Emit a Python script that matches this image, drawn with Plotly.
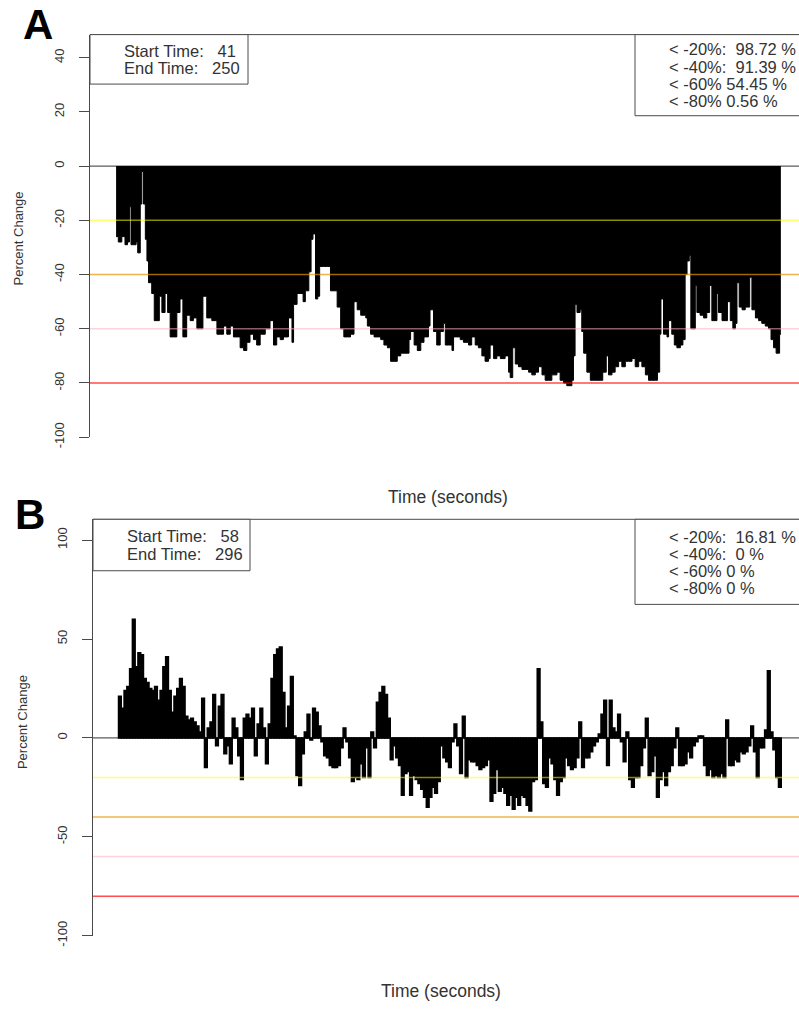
import plotly.graph_objects as go

# ---------------- data ----------------
a_time = [41.0, 41.7, 42.8, 43.8, 44.6, 45.2, 45.7, 46.5, 47.3, 47.8,
          48.6, 49.1, 49.6, 50.2, 50.7, 51.2, 52.2, 53.0, 54.0, 54.6,
          55.4, 56.4, 57.2, 58.0, 59.0, 60.1, 61.1, 62.0, 63.2, 64.3,
          65.3, 66.4, 67.4, 68.3, 69.5, 71.1, 72.7, 73.7, 74.8, 75.8,
          76.9, 77.9, 79.0, 80.0, 81.1, 82.1, 83.1, 84.2, 85.2, 86.3,
          87.9, 89.4, 90.5, 91.5, 92.6, 93.6, 95.2, 96.3, 96.8, 97.9,
          98.9, 99.8, 100.5, 101.6, 102.3, 102.9, 103.7, 104.4, 105.0, 106.3,
          107.4, 108.4, 109.5, 110.5, 111.6, 112.6, 113.7, 114.7, 115.8, 116.8,
          117.9, 119.5, 120.0, 121.0, 122.1, 123.1, 124.2, 125.2, 126.3, 127.3,
          128.4, 129.4, 130.5, 131.5, 133.1, 133.6, 134.7, 135.7, 136.8, 137.8,
          139.2, 139.7, 140.8, 141.8, 142.9, 143.9, 144.5, 145.5, 146.6, 147.1,
          148.1, 149.2, 150.2, 151.8, 152.8, 153.9, 154.9, 156.0, 157.0, 158.1,
          158.6, 159.7, 160.7, 161.8, 163.3, 164.4, 164.9, 165.7, 166.5, 167.5,
          168.6, 169.6, 170.7, 171.7, 172.8, 173.8, 174.9, 175.9, 177.0, 178.0,
          179.6, 180.6, 181.7, 182.7, 183.8, 184.3, 184.8, 185.3, 185.9, 186.9,
          187.4, 188.0, 189.0, 190.1, 191.1, 192.2, 193.2, 194.0, 195.1, 195.8,
          196.9, 197.9, 199.0, 200.0, 201.1, 202.1, 203.2, 204.2, 205.3, 206.3,
          207.4, 208.4, 209.4, 210.5, 211.2, 211.9, 212.3, 213.1, 214.2, 214.7,
          215.7, 216.5, 217.3, 218.4, 219.2, 219.9, 220.5, 221.2, 221.7, 222.3,
          223.1, 223.6, 224.6, 225.7, 226.7, 227.6, 228.3, 228.8, 229.9, 230.4,
          231.5, 232.5, 233.2, 234.1, 234.9, 235.7, 236.2, 236.9, 237.8, 238.8,
          240.2, 240.9, 242.0, 243.0, 244.0, 245.1, 246.1, 246.9, 247.7, 248.5,
          249.6, 250.0]
a_pct = [-26, -28, -26, -29, -28, -15, -29, -29, -28, -32,
         -14, -2, -14, -27, -35, -43, -47, -57, -57, -48,
         -54, -47, -54, -63, -63, -54, -49, -63, -55, -57,
         -56, -60, -60, -48, -56, -57, -62, -62, -59, -62,
         -59, -63, -63, -67, -68, -65, -62, -64, -66, -62,
         -60, -57, -66, -63, -64, -63, -56, -65, -51, -47,
         -47, -50, -46, -39, -27, -25, -49, -48, -37, -37,
         -37, -46, -46, -52, -60, -63, -63, -62, -50, -53,
         -55, -56, -59, -62, -63, -63, -64, -66, -67, -72,
         -72, -70, -69, -69, -64, -61, -66, -68, -65, -63,
         -59, -53, -61, -66, -61, -58, -66, -66, -68, -63,
         -63, -64, -65, -66, -63, -66, -67, -70, -72, -71,
         -66, -71, -70, -71, -70, -76, -78, -67, -73, -74,
         -75, -75, -76, -77, -76, -74, -77, -79, -79, -77,
         -76, -79, -80, -81, -81, -79, -70, -51, -54, -53,
         -61, -69, -76, -79, -79, -79, -79, -76, -70, -77,
         -76, -74, -72, -74, -72, -72, -71, -74, -72, -74,
         -77, -79, -79, -79, -76, -62, -49, -62, -63, -57,
         -62, -66, -67, -66, -64, -40, -35, -33, -60, -60,
         -44, -54, -55, -56, -54, -44, -57, -57, -47, -54,
         -57, -57, -50, -57, -60, -58, -43, -52, -53, -52,
         -41, -53, -56, -57, -58, -59, -60, -64, -67, -69,
         -62, -62]

b_time = list(range(58, 297))
b_pct = [21, 15, 24, 26, 35, 60, 36, 43, 42, 30,
         28, 25, 24, 26, 19, 24, 36, 41, 24, 13,
         21, 25, 30, 26, 11, 9, 10, 8, 6, 3,
         20, -15, 5, 8, 22, -4, 16, 22, -8, -4,
         -13, 10, 5, -9, -21, 10, 12, 10, 15, -9,
         7, 15, 5, -13, 7, 30, 42, 45, 46, 23,
         5, 16, 31, 1, -19, -24, -8, 3, 12, -1,
         15, 13, 6, -2, -9, -10, -14, -15, -15, -14,
         -5, 5, -2, -10, -22, -20, -21, -13, -20, -5,
         -20, 3, -5, 18, 23, 26, 22, 10, -11, -4,
         -10, -14, -29, -18, -17, -29, -19, -21, -23, -26,
         -30, -35, -30, -25, -28, -22, -4, -10, -12, -15,
         -2, 7, -4, -18, 11, -20, -11, -12, -12, -14,
         -16, -15, -14, -11, -32, -28, -16, -27, -25, -28,
         -34, -29, -36, -30, -34, -29, -30, -34, -37, -22,
         -21, 35, 8, -23, -25, -10, -13, -21, -29, -22,
         -20, -10, -14, -16, -15, -10, 8, -15, -10, -10,
         -7, -4, -2, 2, 12, 19, -14, 19, 5, 3,
         12, -2, -12, 3, -21, -25, -20, -20, -14, -5,
         10, -19, -17, -9, -30, -21, -17, -24, -17, -14,
         -5, 5, -14, -14, -13, -7, -10, -4, -2, 1,
         1, -14, -19, -16, -20, -19, -20, -18, -20, 9,
         -14, -14, -11, -12, -7, -8, -7, -4, 6, -7,
         -20, -5, -5, 4, 34, 3, -6, -20, -25]

a_ticks = [-100, -80, -60, -40, -20, 0, 20, 40]
b_ticks = [-100, -50, 0, 50, 100]
thresholds = [-20, -40, -60, -80]
threshold_colors = ["rgba(255,255,0,0.55)", "rgba(230,150,0,0.7)",
                    "rgba(255,175,190,0.55)", "rgba(255,0,0,0.7)"]

a_box_left = ["Start Time:\u00a0\u00a0\u00a041", "End Time:\u00a0\u00a0\u00a0250"]
a_box_right = ["< -20%:\u00a0\u00a098.72 %", "< -40%:\u00a0\u00a091.39 %",
               "< -60% 54.45 %", "< -80% 0.56 %"]
b_box_left = ["Start Time:\u00a0\u00a0\u00a058", "End Time:\u00a0\u00a0\u00a0296"]
b_box_right = ["< -20%:\u00a0\u00a016.81 %", "< -40%:\u00a0\u00a00 %",
               "< -60% 0 %", "< -80% 0 %"]

# ---------------- layout helpers ----------------
W, H = 799, 1015
FONT = "Liberation Sans, Arial, sans-serif"
TXT = "#333333"
LINE = "#4a4a4a"


def px(x):
    return x / W


def py(y):
    return 1 - y / H


fig = go.Figure()
fig.add_trace(go.Scatter(
    x=a_time, y=a_pct, mode="lines",
    line=dict(color="black", width=1, shape="hv"),
    fill="tozeroy", fillcolor="black",
    xaxis="x", yaxis="y", showlegend=False, hoverinfo="skip"))
fig.add_trace(go.Bar(
    x=b_time, y=b_pct, width=1,
    marker=dict(color="black", line=dict(width=1.5, color="black")),
    xaxis="x2", yaxis="y2", showlegend=False, hoverinfo="skip"))

yaxis_common = dict(
    showline=True, linecolor=LINE, linewidth=1,
    ticks="outside", ticklen=10, tickcolor=LINE, tickwidth=1,
    tickangle=-90, showgrid=False, zeroline=False,
    tickfont=dict(family=FONT, size=13, color=TXT),
    ticklabelstandoff=10,
)
xaxis_common = dict(visible=False, showgrid=False, zeroline=False)

fig.update_layout(
    width=W, height=H,
    margin=dict(l=0, r=0, t=0, b=0),
    paper_bgcolor="white", plot_bgcolor="white",
    font=dict(family=FONT, color=TXT),
    showlegend=False,
    xaxis=dict(domain=[px(90), 1], range=[32.8, 255.7], anchor="y", **xaxis_common),
    yaxis=dict(domain=[py(442), py(35)], range=[-100, 48.5], anchor="x",
               tickvals=a_ticks, ticktext=[str(t) for t in a_ticks], **yaxis_common),
    xaxis2=dict(domain=[px(93), 1], range=[48.3, 302.9], anchor="y2", **xaxis_common),
    yaxis2=dict(domain=[py(946), py(525)], range=[-100, 110.5], anchor="x2",
                tickvals=b_ticks, ticktext=[str(t) for t in b_ticks], **yaxis_common),
)

shapes = []
for xa, ya in (("x", "y"), ("x2", "y2")):
    shapes.append(dict(type="line", xref=f"{xa} domain", yref=ya, x0=0, x1=1, y0=0, y1=0,
                       line=dict(color="#333333", width=1), layer="below"))
    shapes.append(dict(type="line", xref=f"{xa} domain", yref=f"{ya} domain", x0=0, x1=1, y0=1, y1=1,
                       line=dict(color=LINE, width=1), layer="above"))
    for thr, col in zip(thresholds, threshold_colors):
        shapes.append(dict(type="line", xref=f"{xa} domain", yref=ya, x0=0, x1=1, y0=thr, y1=thr,
                           line=dict(color=col, width=1.5), layer="above"))

boxes = [(90, 35, 248, 85), (635, 35, 830, 117), (93, 525, 250, 577), (635, 525, 830, 611)]
for x0, y0, x1, y1 in boxes:
    shapes.append(dict(type="rect", xref="paper", yref="paper",
                       x0=px(x0), x1=px(x1), y0=py(y1), y1=py(y0),
                       line=dict(color=LINE, width=1), fillcolor="white", layer="above"))
fig.update_layout(shapes=shapes)

ann = []


def text(x, y, s, size=16.5, anchor="left", angle=0, bold=False):
    ann.append(dict(xref="paper", yref="paper", x=px(x), y=py(y), text=f"<b>{s}</b>" if bold else s,
                    showarrow=False, xanchor=anchor, yanchor="middle", textangle=angle,
                    font=dict(family=FONT, size=size, color="black" if bold else TXT)))


for i, s in enumerate(a_box_left):
    text(122, 51.5 + 17.5 * i, s)
for i, s in enumerate(a_box_right):
    text(667, 50 + 17.3 * i, s)
for i, s in enumerate(b_box_left):
    text(125, 542 + 18 * i, s)
for i, s in enumerate(b_box_right):
    text(667, 543 + 17.3 * i, s)

text(18, 241, "Percent Change", size=13, anchor="center", angle=-90)
text(22, 730, "Percent Change", size=13, anchor="center", angle=-90)
text(448, 502, "Time (seconds)", size=17.5, anchor="center")
text(441, 1002, "Time (seconds)", size=17.5, anchor="center")
text(38, 25, "A", size=42, anchor="center", bold=True)
text(30, 520, "B", size=42, anchor="center", bold=True)

fig.update_layout(annotations=ann)
fig.write_html("out.html")
